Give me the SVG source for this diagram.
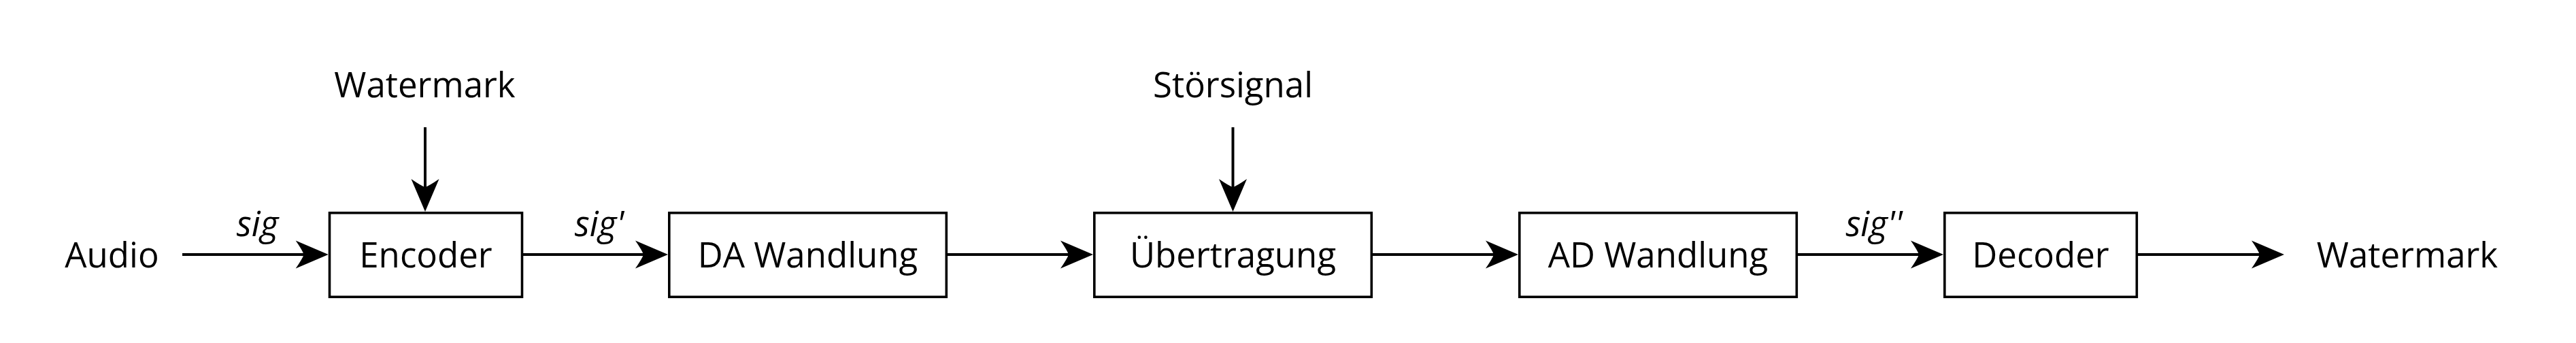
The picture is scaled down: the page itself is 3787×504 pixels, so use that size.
<svg xmlns="http://www.w3.org/2000/svg" width="3787" height="504" viewBox="0 0 3787 504">
<style>
  .box { fill: #ffffff; stroke: #000000; stroke-width: 3.6; }
  .lbl { font-family: "Open Sans", "DejaVu Sans", sans-serif; font-size: 51px; fill: #000000; text-anchor: middle; }
  .sig { font-family: "Open Sans", "DejaVu Sans", sans-serif; font-size: 51px; font-style: italic; fill: #000000; text-anchor: middle; }
  .conn { stroke: #000000; stroke-width: 4; fill: none; marker-end: url(#ah); }
</style>
<defs>
  <marker id="ah" viewBox="-50 -22 52 44" refX="-30" refY="0" markerWidth="52" markerHeight="44" markerUnits="userSpaceOnUse" orient="auto">
    <path d="M0,0 L-48,-20.5 Q-38,-6 -36,0 Q-38,6 -48,20.5 Z" fill="#000000"/>
  </marker>
</defs>
<rect width="3787" height="504" fill="#ffffff"/>

<g id="connectors">
  <line class="conn" x1="268" y1="374" x2="452.7" y2="374"/>
  <line class="conn" x1="769" y1="374" x2="952" y2="374"/>
  <line class="conn" x1="1393" y1="374" x2="1577" y2="374"/>
  <line class="conn" x1="2018" y1="374" x2="2202" y2="374"/>
  <line class="conn" x1="2643" y1="374" x2="2827" y2="374"/>
  <line class="conn" x1="3143" y1="374" x2="3328" y2="374"/>
  <line class="conn" x1="625" y1="187" x2="625" y2="281"/>
  <line class="conn" x1="1812.5" y1="187" x2="1812.5" y2="281"/>
  <text class="sig" x="378.5" y="347">sig</text>
  <text class="sig" x="881" y="347">sig'</text>
  <text class="sig" x="2755" y="347">sig''</text>
</g>

<g id="watermark-in">
  <text class="lbl" x="624.5" y="143.3">Watermark</text>
</g>
<g id="stoersignal">
  <text class="lbl" x="1812.5" y="143.3">Störsignal</text>
</g>
<g id="audio">
  <text class="lbl" x="164.5" y="393">Audio</text>
</g>
<g id="encoder">
  <rect class="box" x="484.5" y="312.8" width="283" height="123.5"/>
  <text class="lbl" x="626" y="393">Encoder</text>
</g>
<g id="da-wandlung">
  <rect class="box" x="983.8" y="312.8" width="407.5" height="123.5"/>
  <text class="lbl" x="1187.5" y="393">DA Wandlung</text>
</g>
<g id="uebertragung">
  <rect class="box" x="1608.8" y="312.8" width="407.5" height="123.5"/>
  <text class="lbl" x="1812.5" y="393">Übertragung</text>
</g>
<g id="ad-wandlung">
  <rect class="box" x="2233.8" y="312.8" width="407.5" height="123.5"/>
  <text class="lbl" x="2437.5" y="393">AD Wandlung</text>
</g>
<g id="decoder">
  <rect class="box" x="2858.8" y="312.8" width="282.5" height="123.5"/>
  <text class="lbl" x="3000" y="393">Decoder</text>
</g>
<g id="watermark-out">
  <text class="lbl" x="3539" y="393">Watermark</text>
</g>
</svg>
